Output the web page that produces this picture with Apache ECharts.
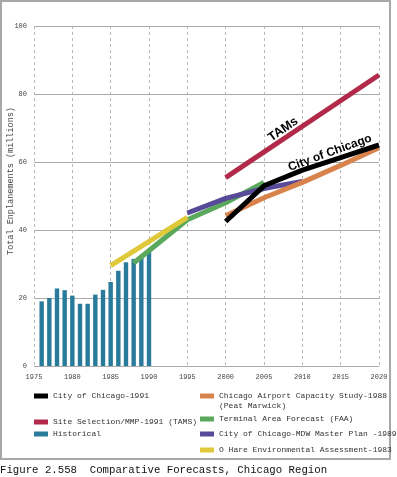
<!DOCTYPE html>
<html>
<head>
<meta charset="utf-8">
<script src="https://cdn.jsdelivr.net/npm/echarts@6/dist/echarts.min.js"></script>
<style>
  html, body { margin: 0; padding: 0; background: #fff; }
  #chart { width: 397px; height: 477px; }
</style>
</head>
<body>
<div id="chart"></div>
<script>
// data
const histYears = [1976, 1977, 1978, 1979, 1980, 1981, 1982, 1983, 1984, 1985, 1986, 1987, 1988, 1989, 1990];
const histValues = [19.0, 20.0, 22.8, 22.3, 20.7, 18.3, 18.3, 21.0, 22.4, 24.7, 28.0, 30.5, 31.5, 32.2, 33.6];

const chicago1991 = [[2000, 42.5], [2005, 53], [2010, 57.6], [2015, 61.3], [2020, 65]];
const tams1991 = [[2000, 55.4], [2020, 85.6]];
const capacity1988 = [[2000, 44.2], [2005, 49.5], [2010, 54], [2015, 59], [2020, 64.2]];
const faaTaf = [[1988, 30.3], [1995, 43], [2000, 48], [2005, 54]];
const mdw1989 = [[1995, 45], [2000, 49.3], [2005, 52.2], [2010, 54.3]];
const ohare1983 = [[1985, 29.5], [1995, 43.7]];

const xTicks = [1975, 1980, 1985, 1990, 1995, 2000, 2005, 2010, 2015, 2020];
const yTicks = [0, 20, 40, 60, 80, 100];

const mono = "'Liberation Mono', 'Courier New', monospace";
const colors = {
  black: '#000000',
  red: '#b22a4a',
  teal: '#2a7a9b',
  orange: '#d8834c',
  green: '#5aa85c',
  purple: '#574a98',
  yellow: '#dfc83a',
};

const names = {
  chicago: 'City of Chicago-1991',
  tams: 'Site Selection/MMP-1991 (TAMS)',
  hist: 'Historical',
  capacity: 'Chicago Airport Capacity Study-1988',
  faa: 'Terminal Area Forecast (FAA)',
  mdw: 'City of Chicago-MDW Master Plan -1989',
  ohare: 'O Hare Environmental Assessment-1983',
};

const myChart = echarts.init(document.getElementById('chart'));

const legendItem = (name, left, top) => ({
  data: [name],
  left,
  top,
  padding: 0,
  icon: 'rect',
  itemWidth: 14,
  itemHeight: 5,
  selectedMode: false,
  textStyle: { fontFamily: mono, fontSize: 8, color: '#333' },
});

const lineSeries = (name, data, color, extra) => Object.assign({
  name,
  type: 'line',
  data,
  symbol: 'none',
  color,
  lineStyle: { width: 5, color },
  animation: false,
}, extra || {});

myChart.setOption({
  animation: false,
  grid: { left: 34, right: 18, top: 26, bottom: 111 },
  xAxis: {
    type: 'value',
    min: xTicks[0],
    max: xTicks[xTicks.length - 1],
    interval: 5,
    axisLine: { show: false },
    axisTick: { show: false },
    axisLabel: {
      fontFamily: mono,
      fontSize: 7,
      color: '#444',
      margin: 8,
      formatter: (v) => String(v),
    },
    splitLine: { show: true, lineStyle: { type: [3, 3], color: '#b8b8b8', width: 1 } },
  },
  yAxis: {
    type: 'value',
    min: yTicks[0],
    max: yTicks[yTicks.length - 1],
    interval: 20,
    axisLine: { show: false },
    axisTick: { show: false },
    axisLabel: { fontFamily: mono, fontSize: 7, color: '#444', margin: 7 },
    splitLine: { show: true, lineStyle: { color: '#aaaaaa', width: 1 } },
  },
  legend: [
    legendItem(names.chicago, 34, 392),
    legendItem(names.tams, 34, 418),
    legendItem(names.hist, 34, 430),
    legendItem(names.capacity, 200, 392),
    legendItem(names.faa, 200, 415),
    legendItem(names.mdw, 200, 430),
    legendItem(names.ohare, 200, 446),
  ],
  series: [
    {
      name: names.hist,
      type: 'bar',
      data: histYears.map((y, i) => [y, histValues[i]]),
      barWidth: 4.4,
      color: colors.teal,
      itemStyle: { color: colors.teal },
    },
    lineSeries(names.faa, faaTaf, colors.green),
    lineSeries(names.mdw, mdw1989, colors.purple),
    lineSeries(names.ohare, ohare1983, colors.yellow),
    lineSeries(names.capacity, capacity1988, colors.orange),
    lineSeries(names.chicago, chicago1991, colors.black, {
      markPoint: {
        symbol: 'circle',
        symbolSize: 0,
        data: [{ coord: [2013.6, 62.7], value: 'City of Chicago' }],
        label: {
          show: true,
          position: 'inside',
          formatter: 'City of Chicago',
          rotate: 20,
          fontFamily: "'Liberation Sans', Arial, sans-serif",
          fontWeight: 'bold',
          fontSize: 12,
          color: '#000',
        },
      },
    }),
    lineSeries(names.tams, tams1991, colors.red, {
      markPoint: {
        symbol: 'circle',
        symbolSize: 0,
        data: [{ coord: [2007.5, 69.6], value: 'TAMs' }],
        label: {
          show: true,
          position: 'inside',
          formatter: 'TAMs',
          rotate: 35,
          fontFamily: "'Liberation Sans', Arial, sans-serif",
          fontWeight: 'bold',
          fontSize: 12.5,
          color: '#000',
        },
      },
    }),
  ],
  graphic: [
    {
      type: 'rect',
      shape: { x: 1, y: 1, width: 389, height: 458 },
      style: { fill: 'none', stroke: '#a8a8a8', lineWidth: 2 },
      silent: true,
    },
    {
      type: 'text',
      x: 11,
      y: 181,
      rotation: Math.PI / 2,
      style: {
        text: 'Total Enplanements (millions)',
        fontFamily: mono,
        fontSize: 8.5,
        fill: '#444',
        align: 'center',
        verticalAlign: 'middle',
      },
    },
    {
      type: 'text',
      x: 219,
      y: 406,
      style: {
        text: '(Peat Marwick)',
        fontFamily: mono,
        fontSize: 8,
        fill: '#333',
        verticalAlign: 'middle',
      },
    },
    {
      type: 'text',
      x: 0,
      y: 470,
      style: {
        text: 'Figure 2.558  Comparative Forecasts, Chicago Region',
        fontFamily: mono,
        fontSize: 10.7,
        fill: '#111',
        verticalAlign: 'middle',
      },
    },
  ],
});

window.onresize = function () {
  myChart.resize();
};
</script>
</body>
</html>
